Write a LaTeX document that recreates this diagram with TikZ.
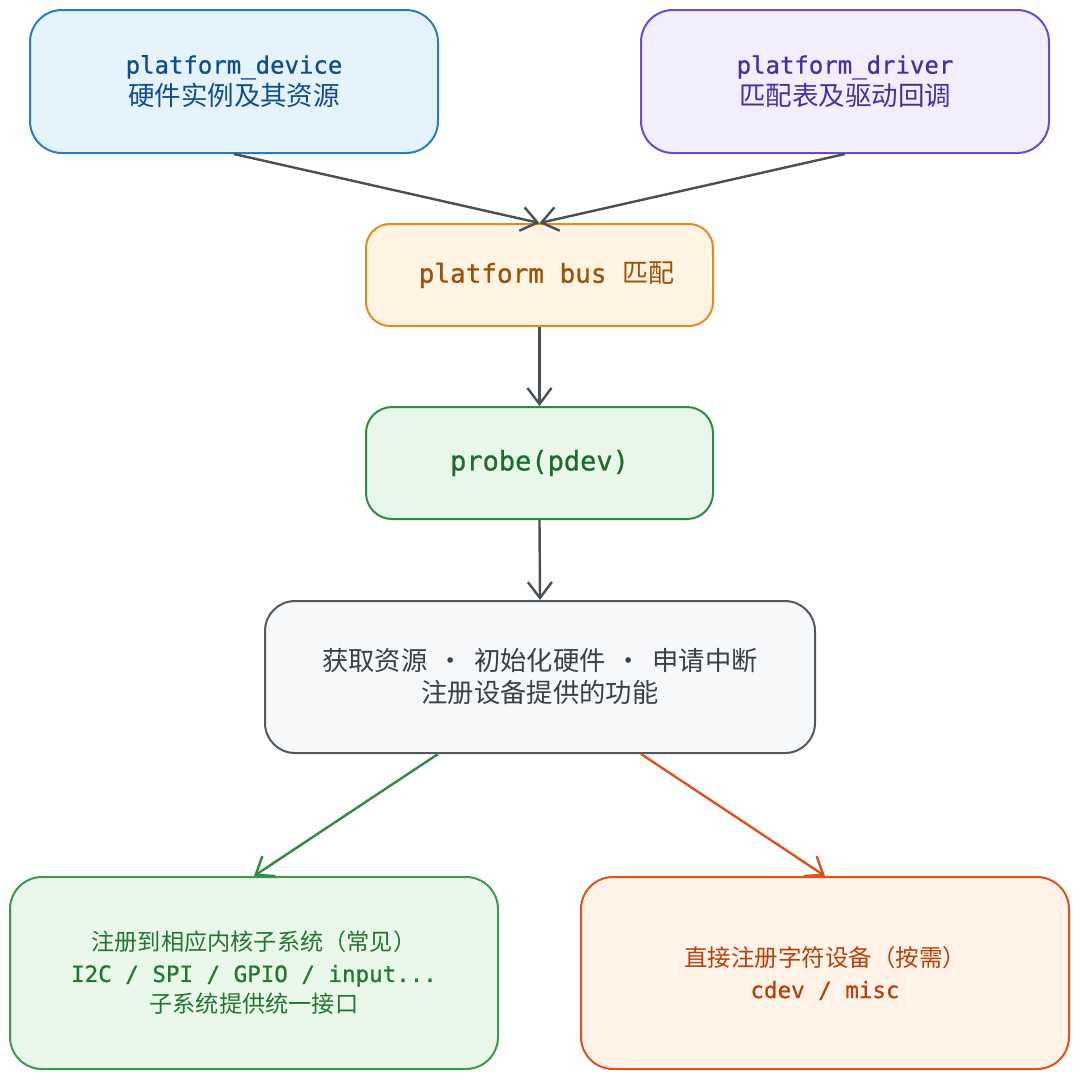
\documentclass[tikz,border=0pt]{standalone}
\usepackage{fontspec}
\setmainfont{Noto Sans CJK SC}
\setmonofont[FakeBold=0.8]{DejaVu Sans Mono}
\usetikzlibrary{arrows.meta,calc}
\definecolor{bluefill}{HTML}{E5F3FD}
\definecolor{blueline}{HTML}{2A7CC0}
\definecolor{bluetext}{HTML}{114E88}
\definecolor{purfill}{HTML}{F2EEFC}
\definecolor{purline}{HTML}{6C4AC8}
\definecolor{purtext}{HTML}{4B2E9C}
\definecolor{orfill}{HTML}{FFF3E2}
\definecolor{orline}{HTML}{E38B22}
\definecolor{ortext}{HTML}{9C5008}
\definecolor{grfill}{HTML}{E9F7EA}
\definecolor{grline}{HTML}{2F8A45}
\definecolor{grtext}{HTML}{1E6B2E}
\definecolor{gyfill}{HTML}{F6F8FA}
\definecolor{gyline}{HTML}{54595F}
\definecolor{gytext}{HTML}{3B3F45}
\definecolor{lgfill}{HTML}{EAF8EC}
\definecolor{lgline}{HTML}{3C9A50}
\definecolor{lgtext}{HTML}{23752F}
\definecolor{rofill}{HTML}{FFF2E6}
\definecolor{roline}{HTML}{D9541F}
\definecolor{rotext}{HTML}{B3420F}
\definecolor{arrowgray}{HTML}{4A4F55}
\newcommand{\monoA}[1]{{\fontsize{24}{32}\selectfont\ttfamily #1}}
\newcommand{\monoB}[1]{{\fontsize{22.5}{31}\selectfont\ttfamily #1}}
\begin{document}
\begin{tikzpicture}[x=1pt,y=-1pt,
  box/.style={draw, line width=2pt, inner sep=0pt, align=center, anchor=center},
  conn/.style={line width=2.4pt, -{Straight Barb[length=16pt,width=24pt]}}]
\useasboundingbox[fill=white] (0,0) rectangle (1080,1080);
\node[box, rounded corners=32pt, fill=bluefill, draw=blueline, text=bluetext,
  minimum width=408pt, minimum height=143pt, font=\fontsize{26.5}{32}\selectfont] (dev) at (234,81.5)
  {\monoA{platform\_device}\\ 硬件实例及其资源};
\node[box, rounded corners=32pt, fill=purfill, draw=purline, text=purtext,
  minimum width=408pt, minimum height=143pt, font=\fontsize{26.5}{32}\selectfont] (drv) at (845,81.5)
  {\monoA{platform\_driver}\\ 匹配表及驱动回调};
\node[box, rounded corners=24pt, fill=orfill, draw=orline, text=ortext,
  minimum width=347pt, minimum height=102pt, font=\fontsize{26}{32}\selectfont] (bus) at (539.5,275)
  {\hspace{14pt}{\ttfamily platform bus }匹配};
\node[box, rounded corners=26pt, fill=grfill, draw=grline, text=grtext,
  minimum width=347pt, minimum height=112pt, font=\fontsize{27}{32}\selectfont\ttfamily] (probe) at (539.5,463)
  {probe(pdev)};
\node[box, rounded corners=30pt, fill=gyfill, draw=gyline, text=gytext,
  minimum width=550pt, minimum height=152pt, font=\fontsize{26.3}{32}\selectfont] (gray) at (540,677)
  {获取资源\hspace{0.39em}·\hspace{0.39em}初始化硬件\hspace{0.39em}·\hspace{0.39em}申请中断\\
   注册设备提供的功能};
\node[box, rounded corners=32pt, fill=lgfill, draw=lgline, text=lgtext,
  minimum width=488pt, minimum height=192pt, font=\fontsize{23.2}{31}\selectfont] (left) at (254,973)
  {注册到相应内核子系统（常见）\\
   \monoB{I2C / SPI / GPIO / input...}\\
   子系统提供统一接口};
\node[box, rounded corners=32pt, fill=rofill, draw=roline, text=rotext,
  minimum width=488pt, minimum height=192pt, font=\fontsize{23.5}{32}\selectfont] (right) at (825,973)
  {直接注册字符设备（按需）\\
   \monoB{cdev / misc}};
\draw[conn, draw=arrowgray] (dev.south) -- (bus.north);
\draw[conn, draw=arrowgray] (drv.south) -- (bus.north);
\draw[conn, draw=arrowgray] (bus.south) -- (probe.north);
\draw[conn, draw=arrowgray] (probe.south) -- (gray.north);
\draw[conn, draw=grline] ([xshift=-102pt]gray.south) -- (left.north);
\draw[conn, draw=roline] ([xshift=101pt]gray.south) -- (right.north);
\end{tikzpicture}
\end{document}
